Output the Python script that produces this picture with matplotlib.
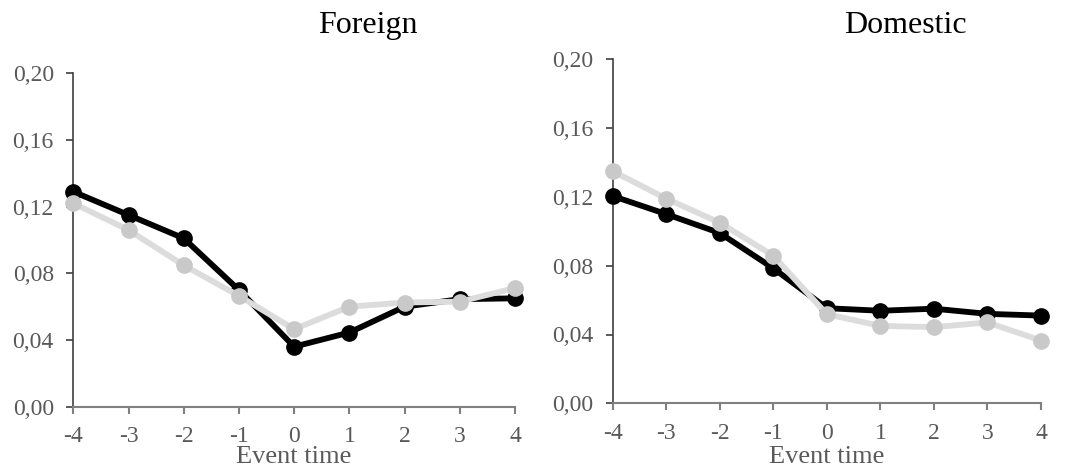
import matplotlib
matplotlib.use("Agg")
import matplotlib.pyplot as plt
from matplotlib.ticker import FuncFormatter

event_time = [-4, -3, -2, -1, 0, 1, 2, 3, 4]
foreign_black = [0.129, 0.115, 0.101, 0.070, 0.036, 0.0445, 0.060, 0.0645, 0.065]
foreign_gray = [0.122, 0.106, 0.0848, 0.0665, 0.0465, 0.060, 0.0625, 0.063, 0.0712]
domestic_black = [0.1205, 0.110, 0.099, 0.0785, 0.0553, 0.0538, 0.055, 0.052, 0.051]
domestic_gray = [0.135, 0.119, 0.105, 0.0858, 0.0518, 0.045, 0.0443, 0.047, 0.0365]
panel_titles = ["Foreign", "Domestic"]
x_label = "Event time"
y_ticks = [0.00, 0.04, 0.08, 0.12, 0.16, 0.20]

plt.rcParams['font.family'] = ['Liberation Serif', 'DejaVu Serif']

W, H = 1065, 468
fig = plt.figure(figsize=(W / 100, H / 100), dpi=100)

# axes boxes in pixels: left, right, top, bottom
boxes = [(73.3, 515, 73.3, 406.7), (612.7, 1041, 59.3, 403.3)]
title_x = [368, 905]
data = [(foreign_black, foreign_gray), (domestic_black, domestic_gray)]

fmt = FuncFormatter(lambda v, p: f"{v:.2f}".replace(".", ","))

for (l, r, t, b), (blk, gry), title, tx in zip(boxes, data, panel_titles, title_x):
    ax = fig.add_axes([l / W, 1 - b / H, (r - l) / W, (b - t) / H])
    ax.plot(event_time, blk, color="black", lw=4.2, marker="o", ms=11,
            markerfacecolor="black", markeredgecolor="black", zorder=3, clip_on=False)
    ax.plot(event_time, gry, color="#dcdcdc", lw=4.2, marker="o", ms=11,
            markerfacecolor="#c9c9c9", markeredgecolor="#c9c9c9", zorder=4, clip_on=False)
    ax.set_xlim(-4, 4)
    ax.set_ylim(0, 0.20)
    ax.set_xticks(event_time)
    ax.set_xticklabels([str(v) for v in event_time])
    ax.set_yticks(y_ticks)
    ax.yaxis.set_major_formatter(fmt)
    for s in ["top", "right"]:
        ax.spines[s].set_visible(False)
    ax.spines["left"].set_color("#404040")
    ax.spines["bottom"].set_color("#808080")
    ax.spines["left"].set_linewidth(1.2)
    ax.spines["bottom"].set_linewidth(1.5)
    ax.tick_params(axis="y", direction="out", length=5, width=1.2, color="#404040",
                   labelsize=17, labelcolor="#595959", pad=9)
    ax.tick_params(axis="x", direction="out", length=5, width=1.5, color="#808080",
                   labelsize=17, labelcolor="#595959", pad=9)
    ax.patch.set_visible(False)
    fig.text((l + r) / 2 / W, 1 - 463 / H, x_label, fontsize=19, color="#595959",
             ha="center", va="baseline")
    fig.text(tx / W, 1 - 33 / H, title, fontsize=23, color="black", ha="center", va="baseline")

fig.savefig("out.png", dpi=100)
